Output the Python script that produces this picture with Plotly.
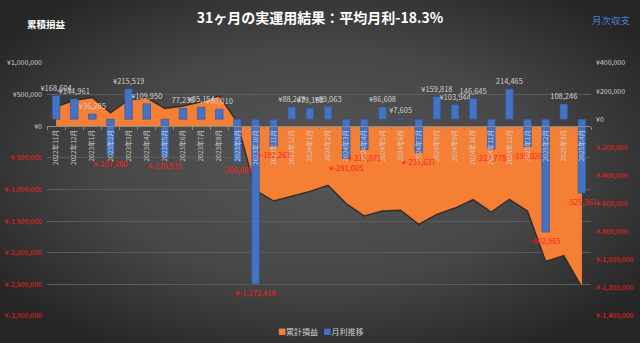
import base64
import plotly.graph_objects as go

months = ["2022年11月", "2022年12月", "2023年1月", "2023年2月", "2023年3月", "2023年4月",
          "2023年5月", "2023年6月", "2023年7月", "2023年8月", "2023年9月", "2023年10月",
          "2023年11月", "2023年12月", "2024年1月", "2024年2月", "2024年3月", "2024年4月",
          "2024年5月", "2024年6月", "2024年7月", "2024年8月", "2024年9月", "2024年10月",
          "2024年11月", "2024年12月", "2025年1月", "2025年2月", "2025年3月", "2025年4月"]

monthly = [168604, 144961, 36285, -257280, 215519, 109950, -270518, 77236, 85154, 70010,
           -300000, -1172418, -192267, 88249, 79188, 89063, -281005, -215071, 86608, 7605,
           -237637, 159818, 103944, 146645, -212778, 214465, -195026, -802965, 108246, -525361]

monthly_labels = ["¥168,604", "¥144,961", "¥36,285", "¥-257,280", "¥215,519", "¥109,950",
                  "¥-270,518", "77,236", "¥85,154", "¥70,010", "-300,000", "¥-1,172,418",
                  "¥-192,267", "¥88,249", "¥79,188", "¥89,063", "¥-281,005", "¥-215,071",
                  "¥86,608", "¥7,605", "¥-237,637", "¥159,818", "¥103,944", "146,645",
                  "-212,778", "214,465", "-195,026", "-802,965", "108,246", "-525,361"]

cumulative = [308000, 411000, 454000, 210000, 415000, 450000, 280000, 321000, 385000, 480000,
              60000, -1013000, -1182000, -1108000, -1029000, -934000, -1223000, -1419000,
              -1340000, -1329000, -1551000, -1392000, -1293000, -1160000, -1356000, -1155000,
              -1340000, -2136000, -2046000, -2543000]

series_names = ["累計損益", "月利推移"]

left_ticks = [1000000, 500000, 0, -500000, -1000000, -1500000, -2000000, -2500000, -3000000]
right_ticks = [400000, 200000, 0, -200000, -400000, -600000, -800000, -1000000, -1200000, -1400000]

FONT = "Noto Sans CJK JP, Noto Sans, sans-serif"
GREY = "#d0d0d0"
RED = "#ff1a1a"
ORANGE = "#F47F35"
BLUE = "#4472C4"


def yen(v):
    return "¥" + ("-" if v < 0 else "") + f"{abs(v):,}"


def colored(v):
    return f'<span style="color:{RED if v < 0 else GREY}">{yen(v)}</span>'


W, H = 640, 343
ml, mr, mt, mb = 47, 49, 63, 27
pw, ph = W - ml - mr, H - mt - mb

svg = (f"<svg xmlns='http://www.w3.org/2000/svg' width='{W}' height='{H}' viewBox='0 0 {W} {H}' preserveAspectRatio='none'>"
       "<defs><radialGradient id='g' cx='50%' cy='48%' r='62%'>"
       "<stop offset='0' stop-color='#565656'/><stop offset='0.55' stop-color='#474747'/>"
       "<stop offset='1' stop-color='#262626'/></radialGradient></defs>"
       f"<rect width='{W}' height='{H}' fill='url(#g)'/></svg>")
bg_uri = "data:image/svg+xml;base64," + base64.b64encode(svg.encode()).decode()

fig = go.Figure()

fig.add_trace(go.Scatter(
    x=months, y=cumulative, name=series_names[0], mode="lines",
    fill="tozeroy", fillcolor=ORANGE,
    line=dict(color="rgba(35,35,35,0.85)", width=1.4),
    yaxis="y", xaxis="x", hoverinfo="skip", showlegend=False))

fig.add_trace(go.Bar(
    x=months, y=monthly, name=series_names[1], yaxis="y2", xaxis="x",
    marker=dict(color=BLUE, line=dict(color="#2f5597", width=0.6)),
    width=0.42,
    text=monthly_labels, textposition="outside", cliponaxis=False,
    constraintext="none", textangle=0,
    textfont=dict(size=7.5, family=FONT, color=[RED if v < 0 else GREY for v in monthly]),
    hoverinfo="skip", showlegend=False))

legend_text = (f'<span style="color:{ORANGE}">■</span>{series_names[0]}'
               f'   <span style="color:{BLUE}">■</span>{series_names[1]}')

fig.update_layout(
    width=W, height=H,
    margin=dict(l=ml, r=mr, t=mt, b=mb, autoexpand=False),
    paper_bgcolor="#3a3a3a", plot_bgcolor="rgba(0,0,0,0)",
    font=dict(family=FONT, color=GREY),
    images=[dict(source=bg_uri, xref="paper", yref="paper",
                 x=-ml / pw, y=1 + mt / ph, sizex=W / pw, sizey=H / ph,
                 xanchor="left", yanchor="top", sizing="stretch", layer="below")],
    title=dict(text="<b>31ヶ月の実運用結果：平均月利-18.3%</b>", x=0.5, xref="container",
               y=1 - 18 / H, yref="container", yanchor="middle", xanchor="center",
               font=dict(size=14, color="#ffffff", family=FONT)),
    xaxis=dict(type="category", anchor="free", position=0.75,
               showline=True, linecolor="#8a8a8a", linewidth=1,
               ticks="outside", tickson="boundaries", ticklen=3, tickcolor="#8a8a8a",
               tickangle=-90, tickfont=dict(size=6.6, color=GREY, family=FONT),
               showgrid=False, zeroline=False, automargin=False),
    yaxis=dict(range=[-3000000, 1000000], tickvals=left_ticks,
               ticktext=[colored(v) for v in left_ticks],
               tickfont=dict(size=7, family=FONT),
               showgrid=True, gridcolor="#5c5c5c", gridwidth=1,
               zeroline=False, showline=False, ticklabelstandoff=4, automargin=False),
    yaxis2=dict(range=[-1400000, 400000], overlaying="y", side="right",
                tickvals=right_ticks, ticktext=[colored(v) for v in right_ticks],
                tickfont=dict(size=7, family=FONT),
                showgrid=False, zeroline=False, showline=False, ticklabelstandoff=4,
                automargin=False),
    showlegend=False,
    annotations=[
        dict(text="<b>累積損益</b>", xref="paper", yref="paper",
             x=(46 - ml) / pw, y=(H - mb - 24) / ph, showarrow=False,
             xanchor="center", yanchor="middle",
             font=dict(size=9.5, color="#ffffff", family=FONT)),
        dict(text="月次収支", xref="paper", yref="paper",
             x=(611 - ml) / pw, y=(H - mb - 20) / ph, showarrow=False,
             xanchor="center", yanchor="middle",
             font=dict(size=9.5, color="#4a7fd6", family=FONT)),
        dict(text=legend_text, xref="paper", yref="paper",
             x=(320 - ml) / pw, y=(H - mb - 331) / ph, showarrow=False,
             xanchor="center", yanchor="middle",
             font=dict(size=8, color=GREY, family=FONT)),
    ],
)

fig.write_html("out.html")
